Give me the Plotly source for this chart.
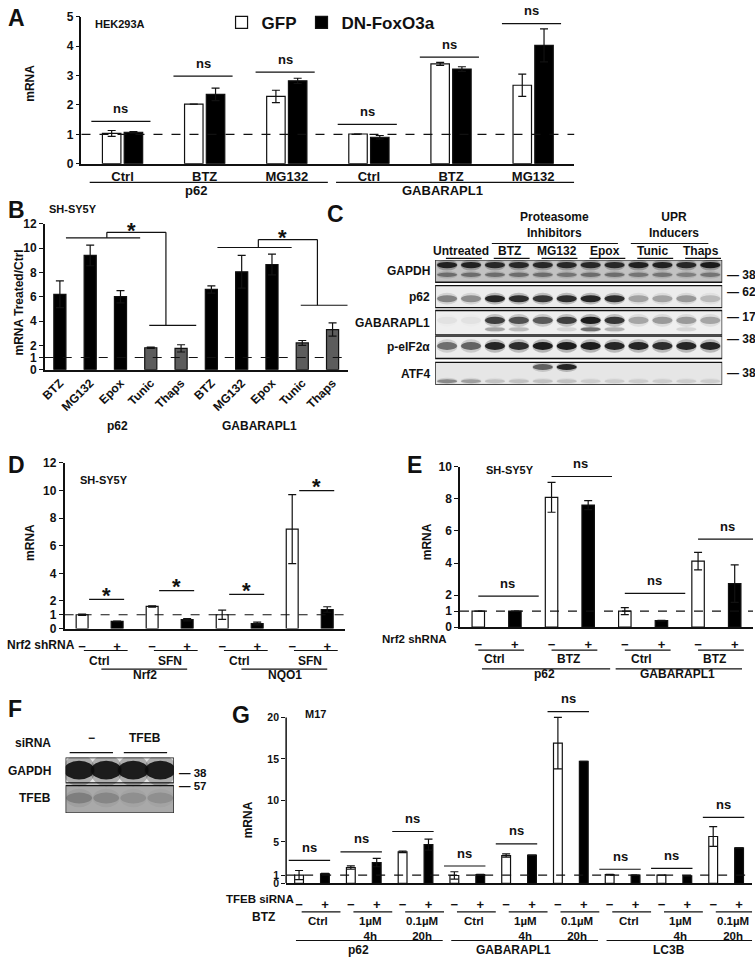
import plotly.graph_objects as go

W, H = 755, 962
FONT = "Liberation Sans, Arial, sans-serif"
INK = "#111111"


def fx(px):
    return px / W


def fy(py):
    return 1 - py / H


# ---------------- data ----------------
# A  HEK293A, GFP vs DN-FoxO3a
a_cats = ["Ctrl", "BTZ", "MG132", "Ctrl", "BTZ", "MG132"]
a_genes = ["p62", "GABARAPL1"]
a_gfp = [1.03, 2.03, 2.29, 1.01, 3.40, 2.67]
a_gfp_err = [0.10, 0.0, 0.21, 0.0, 0.05, 0.38]
a_dn = [1.07, 2.36, 2.82, 0.90, 3.22, 4.03]
a_dn_err = [0.02, 0.21, 0.09, 0.06, 0.08, 0.56]
a_ns = [1.44, 2.98, 3.12, 1.34, 3.63, 4.77]

# B  SH-SY5Y, treated / ctrl
b_cats = ["BTZ", "MG132", "Epox", "Tunic", "Thaps"] * 2
b_genes = ["p62", "GABARAPL1"]
b_vals = [6.2, 9.4, 6.0, 1.8, 1.75, 6.6, 8.05, 8.65, 2.2, 3.3]
b_err = [1.1, 0.85, 0.5, 0.05, 0.3, 0.3, 1.35, 0.85, 0.2, 0.55]
b_upr = [False, False, False, True, True] * 2
b_brackets = [[10.85, 11.3, 3.65], [10.05, 10.7, 5.3]]

# C  western blot, 12 lanes (band darkness 0..1)
c_lanes = ["Untreated", "BTZ", "MG132", "Epox", "Tunic", "Thaps"]
c_gapdh = [0.95, 0.95, 0.9, 0.9, 0.9, 0.9, 0.9, 0.9, 0.95, 0.95, 0.9, 1.0]
c_gapdh_low = [0.45, 0.45, 0.45, 0.45, 0.45, 0.4, 0.45, 0.45, 0.4, 0.4, 0.35, 0.4]
c_p62 = [0.45, 0.4, 0.95, 0.9, 0.85, 0.9, 0.95, 0.9, 0.3, 0.3, 0.35, 0.2]
c_gab = [0.05, 0.05, 0.8, 0.7, 0.65, 0.8, 1.0, 0.85, 0.3, 0.35, 0.35, 0.3]
c_gab_low = [0.0, 0.0, 0.3, 0.2, 0.0, 0.1, 0.55, 0.25, 0.0, 0.0, 0.1, 0.0]
c_peif = [0.55, 0.6, 0.95, 0.9, 1.0, 1.0, 1.0, 0.95, 0.95, 0.9, 0.95, 0.95]
c_atf4 = [0.0, 0.0, 0.0, 0.0, 0.6, 0.95, 0.0, 0.0, 0.0, 0.0, 0.0, 0.0]
c_atf4_low = [0.4, 0.3, 0.15, 0.15, 0.15, 0.15, 0.1, 0.1, 0.1, 0.1, 0.1, 0.1]

# D  SH-SY5Y, Nrf2 shRNA
d_treat = ["Ctrl", "SFN", "Ctrl", "SFN"]
d_genes = ["Nrf2", "NQO1"]
d_minus = [1.0, 1.6, 1.0, 7.2]
d_minus_err = [0.05, 0.05, 0.33, 2.5]
d_plus = [0.52, 0.64, 0.36, 1.38]
d_plus_err = [0.02, 0.08, 0.1, 0.2]
d_sig = [2.12, 2.74, 2.48, 10.0]

# E  SH-SY5Y, Nrf2 shRNA + BTZ
e_treat = ["Ctrl", "BTZ", "Ctrl", "BTZ"]
e_genes = ["p62", "GABARAPL1"]
e_minus = [1.0, 8.1, 1.0, 4.12]
e_minus_err = [0.0, 0.93, 0.22, 0.55]
e_plus = [1.0, 7.62, 0.41, 2.72]
e_plus_err = [0.0, 0.28, 0.02, 1.17]
e_ns = [1.94, 9.4, 2.11, 5.49]

# F  TFEB knockdown blot, 4 lanes
f_gapdh = [1.0, 1.0, 1.0, 1.0]
f_tfeb = [0.25, 0.2, 0.15, 0.15]

# G  M17, TFEB siRNA
g_treat = ["Ctrl", "1µM<br>4h", "0.1µM<br>20h"] * 3
g_genes = ["p62", "GABARAPL1", "LC3B"]
g_minus = [1.0, 1.9, 3.8, 0.95, 3.35, 16.9, 1.05, 1.0, 5.65]
g_minus_err = [0.55, 0.2, 0.1, 0.45, 0.2, 3.1, 0.05, 0.0, 1.2]
g_plus = [1.15, 2.5, 4.67, 1.05, 3.4, 14.7, 1.0, 0.9, 4.27]
g_plus_err = [0.05, 0.5, 0.67, 0.05, 0.0, 0.0, 0.0, 0.0, 0.0]
g_ns = [2.77, 3.8, 6.25, 2.09, 4.75, 20.7, 1.7, 1.8, 7.96]

fig = go.Figure()
shapes = []
ann = []


def bar(ax, x, y, err, color, width, offset, name=None, legend=False):
    fig.add_trace(go.Bar(
        x=x, y=y, width=width, offset=offset, name=name, showlegend=legend,
        marker=dict(color=color, line=dict(color=INK, width=1.2)),
        error_y=dict(type="data", array=err, visible=True, color=INK,
                     thickness=1.2, width=4),
        xaxis="x" + ax, yaxis="y" + ax, hoverinfo="skip"))


def line(xref, yref, x0, x1, y0, y1, width=1.2, dash=None, color=INK):
    shapes.append(dict(type="line", xref=xref, yref=yref, x0=x0, x1=x1,
                       y0=y0, y1=y1, layer="above",
                       line=dict(color=color, width=width, dash=dash)))


def text(x, y, s, xref="paper", yref="paper", size=12, xanchor="center",
         yanchor="middle", angle=0, yshift=0):
    ann.append(dict(x=x, y=y, xref=xref, yref=yref, text=s, showarrow=False,
                    xanchor=xanchor, yanchor=yanchor, textangle=angle,
                    yshift=yshift, font=dict(size=size, color=INK, weight="bold")))


def yaxis(dom, rng, tickvals, anchor, showline=True, size=12):
    return dict(domain=[fy(dom[1]), fy(dom[0])], range=rng, tickvals=tickvals,
                ticks="outside", ticklen=4, tickwidth=1.3, tickcolor=INK,
                showline=showline, linecolor=INK, linewidth=1.5, showgrid=False,
                zeroline=False, anchor=anchor, fixedrange=True,
                tickfont=dict(size=size, weight="bold", color=INK))


def xaxis(dom, rng, anchor, tickvals=None, ticktext=None, size=13, angle=None,
          standoff=0):
    return dict(domain=[fx(dom[0]), fx(dom[1])], range=rng, showline=True,
                linecolor=INK, linewidth=1.5, ticks="", showgrid=False,
                zeroline=False, anchor=anchor, tickvals=tickvals,
                ticktext=ticktext, tickangle=angle, fixedrange=True,
                ticklabelstandoff=standoff,
                tickfont=dict(size=size, weight="bold", color=INK))


def dashed_one(ax):
    line("x" + ax + " domain", "y" + ax, 0, 1, 1, 1, dash="dash")


# ---------------- A ----------------
xa = list(range(len(a_cats)))
bar("", xa, a_gfp, a_gfp_err, "white", 0.225, -0.245, "GFP", True)
bar("", xa, a_dn, a_dn_err, "black", 0.225, 0.02, "DN-FoxO3a", True)
dashed_one("")
for i, lv in enumerate(a_ns):
    line("x", "y", i - 0.38, i + 0.34, lv, lv)
    text(i - 0.02, lv, "ns", "x", "y", size=13, yshift=13)
for g, gene in enumerate(a_genes):
    line("x", "paper", 3 * g - 0.4, 3 * g + 2.5, fy(178), fy(178))
    text(3 * g + 0.9, fy(186), gene, "x", "paper", size=13)
text(fx(89), fy(17), "HEK293A", size=11, xanchor="left")
text(fx(25), fy(77), "mRNA", size=12, angle=-90)
text(fx(1), fy(11), "A", size=23, xanchor="left")

# ---------------- B ----------------
xb = list(range(len(b_cats)))
b_cols = ["#5c5c5c" if u else "black" for u in b_upr]
bar("2", xb, b_vals, b_err, b_cols, 0.4, -0.2)
dashed_one("2")
for k, (lo, hi, low) in enumerate(b_brackets):
    s = 5 * k
    line("x2", "y2", s + 0.2, s + 2.65, lo, lo)
    line("x2", "y2", s + 1.55, s + 1.55, lo, hi)
    line("x2", "y2", s + 1.55, s + 3.5, hi, hi)
    line("x2", "y2", s + 3.5, s + 3.5, hi, low)
    line("x2", "y2", s + 2.95, s + 4.5, low, low)
    text(s + 2.35, hi, "*", "x2", "y2", size=22, yshift=2)
for g, gene in enumerate(b_genes):
    text([1.9, 6.6][g], fy(425), gene, "x2", "paper", size=12)
text(fx(42), fy(205), "SH-SY5Y", size=11, xanchor="left")
text(fx(14), fy(300), "mRNA Treated/Ctrl", size=12, angle=-90)
text(fx(1), fy(206), "B", size=23, xanchor="left")


# ---------------- blots ----------------
def band(ax, lane, cy, h, a, wfrac=0.84):
    if a <= 0:
        return
    for grow, alpha in ((1.7, 0.25), (1.0, 0.9)):
        hw = 0.5 * wfrac * (1.05 if grow > 1 else 1.0)
        shapes.append(dict(type="circle", xref="x" + ax, yref="y" + ax,
                           x0=lane + 0.5 - hw, x1=lane + 0.5 + hw,
                           y0=cy - h * grow / 2, y1=cy + h * grow / 2,
                           line=dict(width=0), layer="above",
                           fillcolor="rgba(12,12,12,%.3f)" % (a * alpha)))


def strip(ax, n, top, bottom, bg):
    shapes.append(dict(type="rect", xref="x" + ax, yref="y" + ax, x0=0, x1=n,
                       y0=top, y1=bottom, fillcolor=bg, layer="above",
                       line=dict(color=INK, width=1.3)))


# C geometry (y in px below the first strip top)
c_top = 256.7
c_rows = [
    ("GAPDH", 0.0, 22.6, "#c2c2c2", [(5.2, 6.5, c_gapdh), (15.0, 4.5, c_gapdh_low)], 271.7, "38"),
    ("p62", 26.0, 48.3, "#ececec", [(39.3, 7.0, c_p62)], 289.0, "62"),
    ("GABARAPL1", 51.3, 76.0, "#efefef", [(61.3, 7.5, c_gab), (70.3, 4.0, c_gab_low)], 315.0, "17"),
    ("p-eIF2α", 77.3, 100.0, "#ededed", [(87.3, 8.0, c_peif)], 336.7, "38"),
    ("ATF4", 104.0, 126.6, "#e6e6e6", [(108.6, 6.0, c_atf4), (123.0, 4.0, c_atf4_low)], 371.7, "38"),
]
for name, top, bottom, bg, bands, mw_y, mw in c_rows:
    strip("6", 12, top, bottom, bg)
    for cy, h, vals in bands:
        for lane, a in enumerate(vals):
            band("6", lane, cy, h, a)
    text(fx(430), fy(c_top + (top + bottom) / 2), name, size=12, xanchor="right")
    text(fx(725), fy(mw_y), "— " + mw, size=12, xanchor="left")
for k, lab in enumerate(c_lanes):
    text(2 * k + 1.1, fy(248), lab, "x6", "paper", size=12)
    line("x6", "paper", 2 * k + 0.45, 2 * k + 1.95, fy(255), fy(255))
text(5.0, fy(221), "Proteasome<br>Inhibitors", "x6", "paper", size=12)
line("x6", "paper", 2.37, 7.64, fy(240), fy(240))
text(10.0, fy(221), "UPR<br>Inducers", "x6", "paper", size=12)
line("x6", "paper", 8.18, 11.42, fy(240), fy(240))
text(fx(322), fy(210), "C", size=23, xanchor="left")

# F blot
strip("7", 4, 0.0, 25.6, "#e4e4e4")
strip("7", 4, 28.3, 56.3, "#a9a9a9")
for lane, a in enumerate(f_gapdh):
    band("7", lane, 12.8, 19.0, a, wfrac=1.12)
for lane, a in enumerate(f_tfeb):
    band("7", lane, 41.0, 11.0, a, wfrac=0.95)
for k, lab in enumerate(["−", "TFEB"]):
    text(2 * k + 0.95, fy(742), lab, "x7", "paper", size=12)
    line("x7", "paper", 2 * k + 0.15, 2 * k + 1.75, fy(756.7), fy(756.7))
text(fx(48), fy(747), "siRNA", size=12, xanchor="right")
text(fx(48), fy(775), "GAPDH", size=12, xanchor="right")
text(fx(48), fy(803), "TFEB", size=12, xanchor="right")
text(fx(173), fy(777), "— 38", size=11.5, xanchor="left")
text(fx(173), fy(791), "— 57", size=11.5, xanchor="left")
text(fx(1), fy(712), "F", size=23, xanchor="left")


# ---------------- plus / minus panels ----------------
def pm_bars(ax, minus, minus_err, plus, plus_err):
    n = len(minus)
    bar(ax, [2 * i for i in range(n)], minus, minus_err, "white", 0.34, -0.17)
    bar(ax, [2 * i + 1 for i in range(n)], plus, plus_err, "black", 0.34, -0.17)
    dashed_one(ax)


# D
pm_bars("3", d_minus, d_minus_err, d_plus, d_plus_err)
for i, lv in enumerate(d_sig):
    line("x3", "y3", 2 * i + 0.2, 2 * i + 1.2, lv, lv)
    text(2 * i + 0.7, lv, "*", "x3", "y3", size=22, yshift=4)
for i, lab in enumerate(d_treat):
    line("x3", "paper", 2 * i + 0.05, 2 * i + 1.3, fy(653), fy(653))
    text(2 * i + 0.5, fy(664), lab, "x3", "paper", size=12)
for g, gene in enumerate(d_genes):
    line("x3", "paper", 4 * g + 0.55, 4 * g + 3.0, fy(672), fy(672))
    text(4 * g + 1.8, fy(678), gene, "x3", "paper", size=12)
text(0, fy(647), "Nrf2 shRNA", size=12, xanchor="left")
text(fx(73), fy(480), "SH-SY5Y", size=11, xanchor="left")
text(fx(25), fy(543), "mRNA", size=12, angle=-90)
text(fx(1), fy(465), "D", size=23, xanchor="left")

# E
pm_bars("4", e_minus, e_minus_err, e_plus, e_plus_err)
for i, lv in enumerate(e_ns):
    line("x4", "y4", 2 * i + 0.0, 2 * i + 1.65, lv, lv)
    text(2 * i + 0.8, lv, "ns", "x4", "y4", size=13, yshift=13)
for i, lab in enumerate(e_treat):
    line("x4", "paper", 2 * i + 0.0, 2 * i + 1.25, fy(652.7), fy(652.7))
    text(2 * i + 0.45, fy(662), lab, "x4", "paper", size=12)
for g, gene in enumerate(e_genes):
    line("x4", "paper", 4 * g + 0.1 - 0.35 * g, 4 * g + 3.6 - 0.4 * g, fy(671.7), fy(671.7))
    text(4 * g + 1.8 - 0.35 * g, fy(677), gene, "x4", "paper", size=12)
text(fx(377), fy(641), "Nrf2 shRNA", size=11.5, xanchor="left")
text(fx(482), fy(470), "SH-SY5Y", size=11, xanchor="left")
text(fx(425), fy(543), "mRNA", size=12, angle=-90)
text(fx(403), fy(465), "E", size=23, xanchor="left")

# G
pm_bars("5", g_minus, g_minus_err, g_plus, g_plus_err)
line("x5 domain", "y5", 0, 0, 0, 20, width=1.5)
for i, lv in enumerate(g_ns):
    line("x5", "y5", 2 * i - 0.4, 2 * i + 1.2, lv, lv)
    text(2 * i + 0.4, lv, "ns", "x5", "y5", size=13, yshift=13)
for i, lab in enumerate(g_treat):
    line("x5", "paper", 2 * i + 0.1, 2 * i + 1.6, fy(918.3), fy(918.3))
    text(2 * i + 0.75, fy(919), lab, "x5", "paper", size=11.5, yanchor="top")
for g, gene in enumerate(g_genes):
    line("x5", "paper", 6 * g - 0.12, 6 * g + 5.55, fy(947.3), fy(947.3))
    text(6 * g + 2.3, fy(956.5), gene, "x5", "paper", size=12)
text(fx(220), fy(905), "TFEB siRNA", size=11.5, xanchor="left")
text(fx(247), fy(923), "BTZ", size=12, xanchor="left")
text(fx(300), fy(717), "M17", size=11, xanchor="left")
text(fx(245), fy(825), "mRNA", size=12, angle=-90)
text(fx(226), fy(718), "G", size=23, xanchor="left")

# ---------------- axes ----------------
pm_text = ["−", "+"]
fig.update_layout(
    width=W, height=H, margin=dict(l=0, r=0, t=0, b=0),
    paper_bgcolor="white", plot_bgcolor="rgba(0,0,0,0)",
    font=dict(family=FONT, color=INK, weight="bold"),
    barmode="overlay", hovermode=False,
    legend=dict(orientation="h", x=fx(218), y=fy(16), xanchor="left",
                yanchor="middle", bgcolor="rgba(0,0,0,0)", itemwidth=30,
                font=dict(size=17, weight="bold", color=INK)),
    xaxis=xaxis((77, 573), [-0.5, 5.5], "y", xa, a_cats, size=13),
    yaxis=yaxis((10, 159), [0, 5], [0, 1, 2, 3, 4, 5], "x"),
    xaxis2=xaxis((40, 345), [-0.5, 9.5], "y2", xb, b_cats, size=12, angle=-45),
    yaxis2=yaxis((220, 368), [0, 12], [0, 1, 2, 4, 6, 8, 10, 12], "x2"),
    xaxis3=xaxis((60, 342), [-0.5, 7.5], "y3", list(range(8)), pm_text * 4,
                 size=13, standoff=5),
    yaxis3=yaxis((462.7, 630.7), [0, 12], [0, 1, 2, 4, 6, 8, 10, 12], "x3"),
    xaxis4=xaxis((458, 753), [-0.5, 7.5], "y4", list(range(8)), pm_text * 4,
                 size=13, standoff=5),
    yaxis4=yaxis((466.7, 629.3), [0, 10], [0, 1, 2, 4, 6, 8, 10], "x4"),
    xaxis5=xaxis((283, 752), [-0.5, 17.5], "y5", list(range(18)), pm_text * 9,
                 size=13, standoff=8),
    yaxis5=yaxis((712.5, 889.3), [0, 21], [0, 1, 5, 10, 15, 20], "x5",
                 showline=False, size=10.5),
    xaxis6=dict(domain=[fx(433), fx(722)], range=[0, 12], visible=False,
                anchor="y6", fixedrange=True),
    yaxis6=dict(domain=[fy(383.3), fy(256.7)], range=[126.6, 0], visible=False,
                anchor="x6", fixedrange=True),
    xaxis7=dict(domain=[fx(61), fx(170)], range=[0, 4], visible=False,
                anchor="y7", fixedrange=True),
    yaxis7=dict(domain=[fy(818), fy(761.7)], range=[56.3, 0], visible=False,
                anchor="x7", fixedrange=True),
    shapes=shapes,
    annotations=ann,
)

fig.write_html("out.html", config={"displayModeBar": False},
               post_script="document.body.style.margin='0';"
                           "document.body.style.overflow='hidden';")
